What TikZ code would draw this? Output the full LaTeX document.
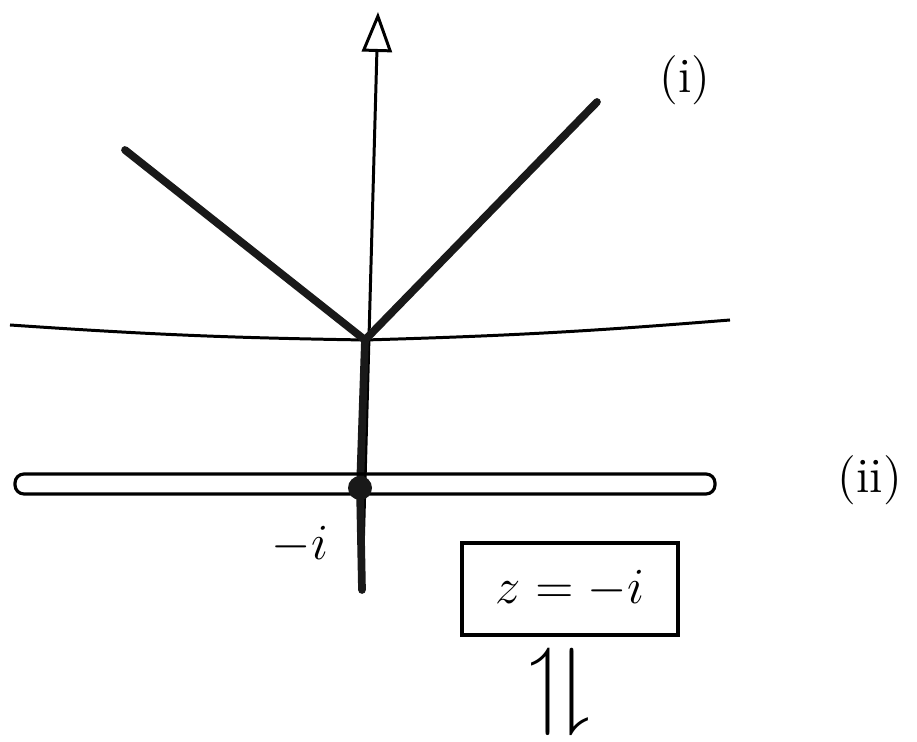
\documentclass[tikz,border=0pt]{standalone}
\usepackage{amsmath}
\usepackage{amssymb}
\usepackage{tikz}
\usetikzlibrary{arrows.meta,positioning}

\begin{document}
\begin{tikzpicture}[
  font=\fontsize{14}{16}\selectfont,
  axis/.style={line width=0.85pt, draw=black},
  path1/.style={line width=2.2pt, draw=black!90, line cap=round},
  loopline/.style={line width=0.9pt, draw=black, rounded corners=0.09cm},
  lbl/.style={inner sep=1pt},
  labelbox/.style={draw=black, line width=0.9pt, minimum width=21.6mm,
                   minimum height=9.2mm, inner sep=2pt}
]
\useasboundingbox (0,0) rectangle (9.17,7.42);

% axes
\coordinate (ybot) at (3.62,1.52);
\coordinate (ytop) at (3.78,7.30);
\coordinate (orig) at (3.65,4.02);
\coordinate (xl)   at (0.10,4.17);
\coordinate (xr)   at (7.30,4.22);
\draw[axis, -{Triangle[open, length=4mm, width=3mm]}] (ybot) -- (ytop);
\draw[axis] (xl) to[bend right=1.5] (orig) to[bend right=1.5] (xr);

% contour (i)
\coordinate (vl) at (1.25,5.92);
\coordinate (vr) at (5.97,6.40);
\coordinate (mi) at (3.60,2.54);
\draw[path1] (vl) -- (orig) -- (vr);
\draw[path1] (orig) -- (mi) -- (ybot);

% contour (ii)
\draw[loopline] (0.15,2.48) rectangle (7.15,2.68);
\fill[black!90] (mi) circle (0.12);

% labels
\node[lbl] (lab1) at (6.85,6.62) {(i)};
\node[lbl] (lab2) at (8.70,2.62) {(ii)};
\node[lbl] (mlab) at (3.00,1.97) {$-i$};
\node[labelbox] (zbox) at (5.70,1.53) {$z=-i$};
\node[lbl, scale=2] (dbl) at (5.60,0.50) {$\upharpoonleft\!\downharpoonright$};
\end{tikzpicture}
\end{document}
